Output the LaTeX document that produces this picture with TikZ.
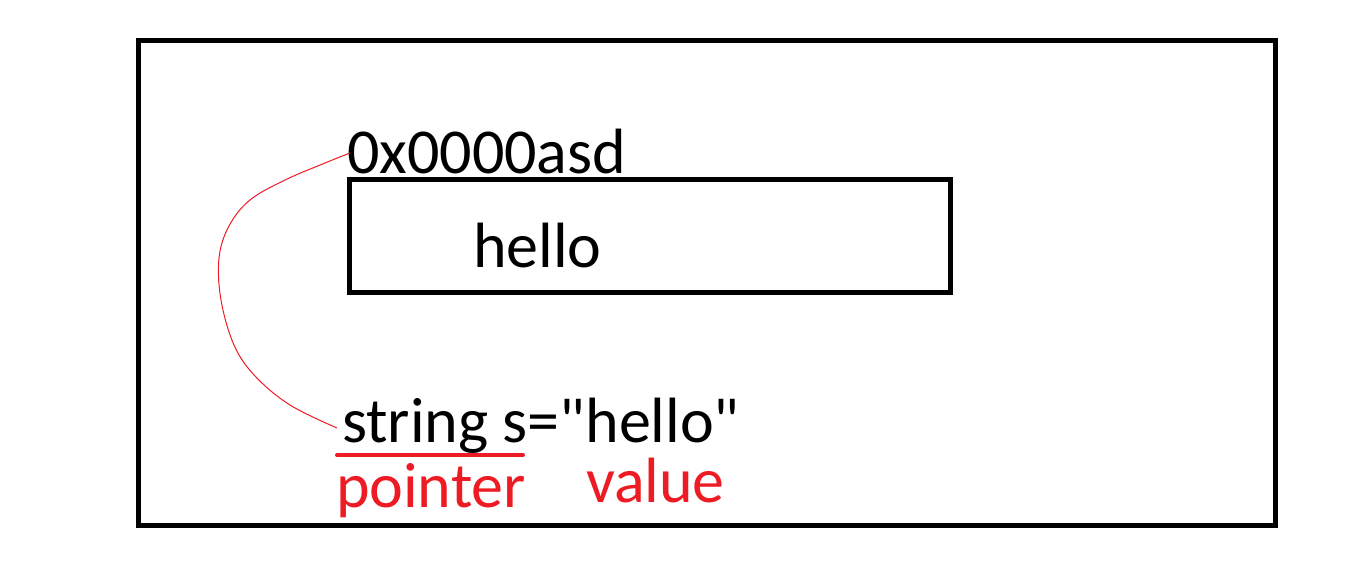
\documentclass[tikz,border=0pt]{standalone}
\usepackage{fontspec}
\setmainfont{Carlito}[Ligatures=TeXOff]
\definecolor{pred}{RGB}{237,28,36}
\begin{document}
\begin{tikzpicture}[x=1pt,y=-1pt,
  lbl/.style={inner sep=0pt,outer sep=0pt,anchor=base west,font=\fontsize{64}{76}\selectfont},
  redlbl/.style={lbl,text=pred},
  box/.style={draw=black,line width=5pt,inner sep=0pt,outer sep=0pt,anchor=north west},
  ptr/.style={draw=pred,line width=1pt},
  uline/.style={draw=pred,line width=4pt,line cap=round}]
\useasboundingbox (0,0) rectangle (1360,571);
\node[box,minimum width=1137pt,minimum height=485pt] (outer) at (138,40) {};
\node[box,minimum width=601pt,minimum height=113.5pt] (mem) at (349,179) {};
\node[lbl] (addr) at (347,173) {0x0000asd};
\node[lbl] (val) at (473,267) {hello};
\node[lbl] (decl) at (342,442) {string s="hello"};
\node[redlbl] (ptrlbl) at (336,507) {pointer};
\node[redlbl] (vallbl) at (586,502) {value};
\coordinate (ustart) at (337,455);
\coordinate (uend) at (523,455);
\draw[uline] (ustart) -- (uend);
\coordinate (a0) at (350,153);
\coordinate (d0) at (337,428);
\draw[ptr] plot[smooth,tension=0.6] coordinates {(a0) (325,163) (285,180) (250,200) (229,226) (219,258) (221,300) (234,345) (255,376) (290,405) (d0)};
\end{tikzpicture}
\end{document}
